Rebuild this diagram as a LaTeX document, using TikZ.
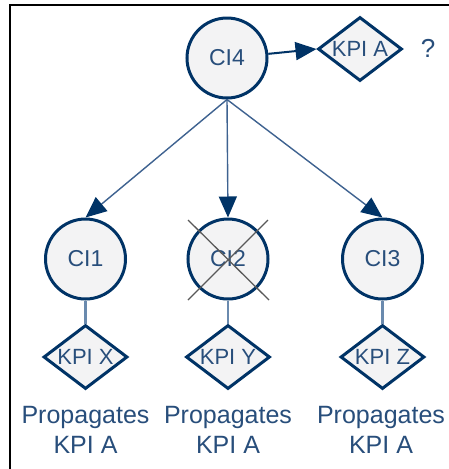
\documentclass[tikz,border=0pt]{standalone}
\usepackage{fontspec}
\setmainfont{Liberation Sans}
\usetikzlibrary{shapes.geometric,arrows.meta}
\definecolor{navy}{HTML}{003366}
\definecolor{txtblue}{HTML}{284E7B}
\definecolor{shapefill}{HTML}{F3F3F4}
\definecolor{edgeblue}{HTML}{3E6290}
\definecolor{stemblue}{HTML}{6A8AAE}
\tikzset{
  ci/.style={circle,draw=navy,line width=3pt,fill=shapefill,minimum size=80pt,inner sep=0pt,
    text=txtblue,font=\fontsize{23}{27}\selectfont},
  kpi/.style={diamond,draw=navy,line width=3pt,fill=shapefill,aspect=1.3,minimum width=84pt,
    minimum height=64pt,inner sep=0pt,text=txtblue,font=\fontsize{22}{26}\selectfont},
  caption/.style={align=center,inner sep=0pt,text=txtblue,font=\fontsize{25}{30}\selectfont},
  tree/.style={draw=edgeblue,line width=1.4pt,-{Triangle[length=21pt,width=18pt,fill=navy,color=navy]}},
  stem/.style={draw=stemblue,line width=2.2pt},
  cross/.style={draw=black!65,line width=1.3pt}
}
\begin{document}
\begin{tikzpicture}[x=1pt,y=-1pt]
\useasboundingbox[fill=white] (0,0) rectangle (449,469);
\draw[black,line width=2pt] (9.5,469) -- (9.5,4.5) coordinate (fc) -- (449,4.5);
% nodes
\node[ci] (ci4) at (227,58) {CI4};
\node[kpi] (kpia) at (360,49) {KPI A};
\node[text=txtblue,font=\fontsize{26}{30}\selectfont] (q) at (428,48) {?};
\node[ci] (ci1) at (85.5,259) {CI1};
\node[ci] (ci2) at (228,259) {CI2};
\node[ci] (ci3) at (382.5,259) {CI3};
\node[kpi] (kx) at (85.5,357) {KPI X};
\node[kpi] (ky) at (228,357) {KPI Y};
\node[kpi] (kz) at (382.5,357) {KPI Z};
\node[caption,anchor=north] (p1) at (85.5,406) {Propagates\\KPI A};
\node[caption,anchor=north] (p2) at (228,406) {Propagates\\KPI A};
\node[caption,anchor=north] (p3) at (381,406) {Propagates\\KPI A};
% connectors
\draw[tree,draw=navy,line width=2pt] (ci4) -- (kpia.west);
\draw[tree] (ci4.south) -- (ci1.north);
\draw[tree] (ci4.south) -- (ci2.north);
\draw[tree] (ci4.south) -- (ci3.north);
\draw[stem] (ci1.south) -- (kx.north);
\draw[stem] (ci2.south) -- (ky.north);
\draw[stem] (ci3.south) -- (kz.north);
% cross over CI2
\coordinate (xa) at ([shift={(-40,-39)}]ci2.center);
\coordinate (xb) at ([shift={(41,41)}]ci2.center);
\coordinate (xc) at ([shift={(40,-39)}]ci2.center);
\coordinate (xd) at ([shift={(-40,41)}]ci2.center);
\draw[cross] (xa) -- (xb);
\draw[cross] (xc) -- (xd);
\end{tikzpicture}
\end{document}
